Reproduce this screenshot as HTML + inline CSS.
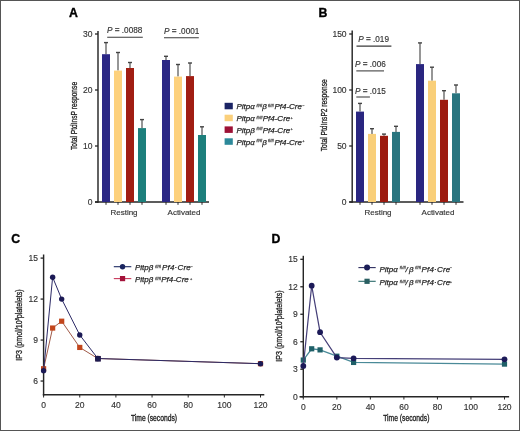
<!DOCTYPE html>
<html><head><meta charset="utf-8"><style>
html,body{margin:0;padding:0;background:#fff;}
svg{display:block;font-family:"Liberation Sans", sans-serif;will-change:transform;}
</style></head><body>
<svg width="520" height="431" viewBox="0 0 520 431" fill="#333">
<rect x="0" y="0" width="520" height="431" fill="#fff"/>
<g fill="#333">
<line x1="98" y1="31" x2="98" y2="202.8" stroke="#262626" stroke-width="1.45"/>
<line x1="95" y1="202" x2="209" y2="202" stroke="#262626" stroke-width="1.45"/>
<line x1="95" y1="202.0" x2="98" y2="202.0" stroke="#262626" stroke-width="1.3"/>
<text x="92.4" y="205.0" font-size="8.5" text-anchor="end" stroke="#333" stroke-width="0.15" >0</text>
<line x1="95" y1="146.0" x2="98" y2="146.0" stroke="#262626" stroke-width="1.3"/>
<text x="92.4" y="149.0" font-size="8.5" text-anchor="end" stroke="#333" stroke-width="0.15" >10</text>
<line x1="95" y1="90.0" x2="98" y2="90.0" stroke="#262626" stroke-width="1.3"/>
<text x="92.4" y="93.0" font-size="8.5" text-anchor="end" stroke="#333" stroke-width="0.15" >20</text>
<line x1="95" y1="34.0" x2="98" y2="34.0" stroke="#262626" stroke-width="1.3"/>
<text x="92.4" y="37.0" font-size="8.5" text-anchor="end" stroke="#333" stroke-width="0.15" >30</text>
<line x1="106" y1="42.6" x2="106" y2="54.2" stroke="#5e5e5e" stroke-width="1.3"/>
<line x1="104" y1="42.6" x2="108" y2="42.6" stroke="#444" stroke-width="1.4"/>
<rect x="102" y="54.2" width="8" height="147.8" fill="#2b2785"/>
<line x1="106" y1="202" x2="106" y2="204.8" stroke="#262626" stroke-width="1"/>
<line x1="118" y1="52.5" x2="118" y2="70.6" stroke="#5e5e5e" stroke-width="1.3"/>
<line x1="116" y1="52.5" x2="120" y2="52.5" stroke="#444" stroke-width="1.4"/>
<rect x="114" y="70.6" width="8" height="131.4" fill="#fdd17d"/>
<line x1="118" y1="202" x2="118" y2="204.8" stroke="#262626" stroke-width="1"/>
<line x1="130" y1="62.5" x2="130" y2="68" stroke="#5e5e5e" stroke-width="1.3"/>
<line x1="128" y1="62.5" x2="132" y2="62.5" stroke="#444" stroke-width="1.4"/>
<rect x="126" y="68" width="8" height="134" fill="#a11d12"/>
<line x1="130" y1="202" x2="130" y2="204.8" stroke="#262626" stroke-width="1"/>
<line x1="142" y1="119.6" x2="142" y2="128.1" stroke="#5e5e5e" stroke-width="1.3"/>
<line x1="140" y1="119.6" x2="144" y2="119.6" stroke="#444" stroke-width="1.4"/>
<rect x="138" y="128.1" width="8" height="73.9" fill="#1d7f7c"/>
<line x1="142" y1="202" x2="142" y2="204.8" stroke="#262626" stroke-width="1"/>
<line x1="166" y1="56.3" x2="166" y2="60" stroke="#5e5e5e" stroke-width="1.3"/>
<line x1="164" y1="56.3" x2="168" y2="56.3" stroke="#444" stroke-width="1.4"/>
<rect x="162" y="60" width="8" height="142" fill="#2b2785"/>
<line x1="166" y1="202" x2="166" y2="204.8" stroke="#262626" stroke-width="1"/>
<line x1="178" y1="64.5" x2="178" y2="76.6" stroke="#5e5e5e" stroke-width="1.3"/>
<line x1="176" y1="64.5" x2="180" y2="64.5" stroke="#444" stroke-width="1.4"/>
<rect x="174" y="76.6" width="8" height="125.4" fill="#fdd17d"/>
<line x1="178" y1="202" x2="178" y2="204.8" stroke="#262626" stroke-width="1"/>
<line x1="190" y1="63" x2="190" y2="76.1" stroke="#5e5e5e" stroke-width="1.3"/>
<line x1="188" y1="63" x2="192" y2="63" stroke="#444" stroke-width="1.4"/>
<rect x="186" y="76.1" width="8" height="125.9" fill="#a11d12"/>
<line x1="190" y1="202" x2="190" y2="204.8" stroke="#262626" stroke-width="1"/>
<line x1="202" y1="126.8" x2="202" y2="135" stroke="#5e5e5e" stroke-width="1.3"/>
<line x1="200" y1="126.8" x2="204" y2="126.8" stroke="#444" stroke-width="1.4"/>
<rect x="198" y="135" width="8" height="67" fill="#1d7f7c"/>
<line x1="202" y1="202" x2="202" y2="204.8" stroke="#262626" stroke-width="1"/>
<text x="124" y="214.7" font-size="8" text-anchor="middle" stroke="#333" stroke-width="0.15" >Resting</text>
<text x="184" y="214.7" font-size="8" text-anchor="middle" stroke="#333" stroke-width="0.15" >Activated</text>
<text x="69" y="16.8" font-size="12.3" text-anchor="start" stroke="#000" stroke-width="0.35" font-weight="bold" fill="#000">A</text>
<text transform="translate(76.9,116) rotate(-90) scale(0.70,1)" font-size="9.5" text-anchor="middle" stroke="#222" stroke-width="0.3" fill="#222">Total PtdInsP response</text>
<line x1="352.2" y1="30.6" x2="352.2" y2="202.8" stroke="#262626" stroke-width="1.45"/>
<line x1="349.2" y1="202" x2="463.5" y2="202" stroke="#262626" stroke-width="1.45"/>
<line x1="349.2" y1="202.0" x2="352.2" y2="202.0" stroke="#262626" stroke-width="1.3"/>
<text x="346.59999999999997" y="205.0" font-size="8.5" text-anchor="end" stroke="#333" stroke-width="0.15" >0</text>
<line x1="349.2" y1="146.0" x2="352.2" y2="146.0" stroke="#262626" stroke-width="1.3"/>
<text x="346.59999999999997" y="149.0" font-size="8.5" text-anchor="end" stroke="#333" stroke-width="0.15" >50</text>
<line x1="349.2" y1="89.99999999999999" x2="352.2" y2="89.99999999999999" stroke="#262626" stroke-width="1.3"/>
<text x="346.59999999999997" y="92.99999999999999" font-size="8.5" text-anchor="end" stroke="#333" stroke-width="0.15" >100</text>
<line x1="349.2" y1="33.99999999999997" x2="352.2" y2="33.99999999999997" stroke="#262626" stroke-width="1.3"/>
<text x="346.59999999999997" y="36.99999999999997" font-size="8.5" text-anchor="end" stroke="#333" stroke-width="0.15" >150</text>
<line x1="360" y1="103.4" x2="360" y2="111.6" stroke="#5e5e5e" stroke-width="1.3"/>
<line x1="358" y1="103.4" x2="362" y2="103.4" stroke="#444" stroke-width="1.4"/>
<rect x="356" y="111.6" width="8" height="90.4" fill="#2a2680"/>
<line x1="360" y1="202" x2="360" y2="204.8" stroke="#262626" stroke-width="1"/>
<line x1="372" y1="128.7" x2="372" y2="133.9" stroke="#5e5e5e" stroke-width="1.3"/>
<line x1="370" y1="128.7" x2="374" y2="128.7" stroke="#444" stroke-width="1.4"/>
<rect x="368" y="133.9" width="8" height="68.1" fill="#f9cf79"/>
<line x1="372" y1="202" x2="372" y2="204.8" stroke="#262626" stroke-width="1"/>
<line x1="384" y1="134.1" x2="384" y2="135.8" stroke="#5e5e5e" stroke-width="1.3"/>
<line x1="382" y1="134.1" x2="386" y2="134.1" stroke="#444" stroke-width="1.4"/>
<rect x="380" y="135.8" width="8" height="66.19999999999999" fill="#9c1b10"/>
<line x1="384" y1="202" x2="384" y2="204.8" stroke="#262626" stroke-width="1"/>
<line x1="396" y1="126.3" x2="396" y2="131.9" stroke="#5e5e5e" stroke-width="1.3"/>
<line x1="394" y1="126.3" x2="398" y2="126.3" stroke="#444" stroke-width="1.4"/>
<rect x="392" y="131.9" width="8" height="70.1" fill="#29757f"/>
<line x1="396" y1="202" x2="396" y2="204.8" stroke="#262626" stroke-width="1"/>
<line x1="420" y1="42.9" x2="420" y2="64.1" stroke="#5e5e5e" stroke-width="1.3"/>
<line x1="418" y1="42.9" x2="422" y2="42.9" stroke="#444" stroke-width="1.4"/>
<rect x="416" y="64.1" width="8" height="137.9" fill="#2a2680"/>
<line x1="420" y1="202" x2="420" y2="204.8" stroke="#262626" stroke-width="1"/>
<line x1="432" y1="67.2" x2="432" y2="80.7" stroke="#5e5e5e" stroke-width="1.3"/>
<line x1="430" y1="67.2" x2="434" y2="67.2" stroke="#444" stroke-width="1.4"/>
<rect x="428" y="80.7" width="8" height="121.3" fill="#f9cf79"/>
<line x1="432" y1="202" x2="432" y2="204.8" stroke="#262626" stroke-width="1"/>
<line x1="444" y1="90.7" x2="444" y2="99.8" stroke="#5e5e5e" stroke-width="1.3"/>
<line x1="442" y1="90.7" x2="446" y2="90.7" stroke="#444" stroke-width="1.4"/>
<rect x="440" y="99.8" width="8" height="102.2" fill="#9c1b10"/>
<line x1="444" y1="202" x2="444" y2="204.8" stroke="#262626" stroke-width="1"/>
<line x1="456" y1="85" x2="456" y2="93.3" stroke="#5e5e5e" stroke-width="1.3"/>
<line x1="454" y1="85" x2="458" y2="85" stroke="#444" stroke-width="1.4"/>
<rect x="452" y="93.3" width="8" height="108.7" fill="#29757f"/>
<line x1="456" y1="202" x2="456" y2="204.8" stroke="#262626" stroke-width="1"/>
<text x="378" y="214.7" font-size="8" text-anchor="middle" stroke="#333" stroke-width="0.15" >Resting</text>
<text x="438" y="214.7" font-size="8" text-anchor="middle" stroke="#333" stroke-width="0.15" >Activated</text>
<text x="318.5" y="16.9" font-size="12.3" text-anchor="start" stroke="#000" stroke-width="0.35" font-weight="bold" fill="#000">B</text>
<text transform="translate(326.6,115.3) rotate(-90) scale(0.70,1)" font-size="9.5" text-anchor="middle" stroke="#222" stroke-width="0.3" fill="#222">Total PtdInsP2 response</text>
<text x="107" y="33" font-size="8.2" stroke="#333" stroke-width="0.15"><tspan font-style="italic">P</tspan> <tspan font-weight="bold" fill="#555" stroke="#555">=</tspan> .0088</text>
<line x1="107.2" y1="37.3" x2="142.8" y2="37.3" stroke="#3a3a3a" stroke-width="1.05"/>
<text x="164" y="34.1" font-size="8.2" stroke="#333" stroke-width="0.15"><tspan font-style="italic">P</tspan> <tspan font-weight="bold" fill="#555" stroke="#555">=</tspan> .0001</text>
<line x1="164" y1="37.7" x2="198.8" y2="37.7" stroke="#3a3a3a" stroke-width="1.05"/>
<text x="358.2" y="42.2" font-size="8.2" stroke="#333" stroke-width="0.15"><tspan font-style="italic">P</tspan> <tspan font-weight="bold" fill="#555" stroke="#555">=</tspan> .019</text>
<line x1="356.5" y1="46.1" x2="391.4" y2="46.1" stroke="#3a3a3a" stroke-width="1.05"/>
<text x="355" y="66.6" font-size="8.2" stroke="#333" stroke-width="0.15"><tspan font-style="italic">P</tspan> <tspan font-weight="bold" fill="#555" stroke="#555">=</tspan> .006</text>
<line x1="356.3" y1="70.9" x2="384" y2="70.9" stroke="#3a3a3a" stroke-width="1.05"/>
<text x="355" y="93.9" font-size="8.2" stroke="#333" stroke-width="0.15"><tspan font-style="italic">P</tspan> <tspan font-weight="bold" fill="#555" stroke="#555">=</tspan> .015</text>
<line x1="356.3" y1="97" x2="369.9" y2="97" stroke="#3a3a3a" stroke-width="1.05"/>
</g>
<rect x="224.6" y="102.8" width="8.2" height="6.5" fill="#1b2464"/>
<rect x="224.6" y="114.7" width="8.2" height="6.5" fill="#fbd07c"/>
<rect x="224.6" y="126.39999999999999" width="8.2" height="6.5" fill="#9d1135"/>
<rect x="224.6" y="138.29999999999998" width="8.2" height="6.5" fill="#2c899a"/>
<text font-size="8" font-style="italic" fill="#262626" stroke="#262626" stroke-width="0.25"><tspan x="236.5" y="109.1">Pitpα</tspan><tspan x="256.4" y="106.60" font-size="3.7" letter-spacing="0.25" fill="#555" stroke="#555" stroke-width="0.3">fl/fl</tspan><tspan x="262.3" y="109.1">β</tspan><tspan x="267.9" y="106.60" font-size="3.7" letter-spacing="0.25" fill="#555" stroke="#555" stroke-width="0.3">fl/fl</tspan><tspan x="274.4" y="109.1">Pf4-Cre</tspan><tspan x="302.2" y="106.60" font-size="3.7" letter-spacing="0.25" fill="#555" stroke="#555" stroke-width="0.3">−</tspan></text>
<text font-size="8" font-style="italic" fill="#262626" stroke="#262626" stroke-width="0.25"><tspan x="236.5" y="121">Pitpα</tspan><tspan x="256.6" y="118.50" font-size="3.7" letter-spacing="0.25" fill="#555" stroke="#555" stroke-width="0.3">fl/fl</tspan><tspan x="262.7" y="121">Pf4-Cre</tspan><tspan x="290.5" y="118.50" font-size="3.7" letter-spacing="0.25" fill="#555" stroke="#555" stroke-width="0.3">+</tspan></text>
<text font-size="8" font-style="italic" fill="#262626" stroke="#262626" stroke-width="0.25"><tspan x="236.5" y="132.7">Pitpβ</tspan><tspan x="256.6" y="130.20" font-size="3.7" letter-spacing="0.25" fill="#555" stroke="#555" stroke-width="0.3">fl/fl</tspan><tspan x="262.7" y="132.7">Pf4-Cre</tspan><tspan x="290.5" y="130.20" font-size="3.7" letter-spacing="0.25" fill="#555" stroke="#555" stroke-width="0.3">+</tspan></text>
<text font-size="8" font-style="italic" fill="#262626" stroke="#262626" stroke-width="0.25"><tspan x="236.5" y="144.6">Pitpα</tspan><tspan x="256.4" y="142.10" font-size="3.7" letter-spacing="0.25" fill="#555" stroke="#555" stroke-width="0.3">fl/fl</tspan><tspan x="262.3" y="144.6">β</tspan><tspan x="267.9" y="142.10" font-size="3.7" letter-spacing="0.25" fill="#555" stroke="#555" stroke-width="0.3">fl/fl</tspan><tspan x="274.4" y="144.6">Pf4-Cre</tspan><tspan x="302.2" y="142.10" font-size="3.7" letter-spacing="0.25" fill="#555" stroke="#555" stroke-width="0.3">+</tspan></text>
<line x1="43.6" y1="254.5" x2="43.6" y2="395.5" stroke="#262626" stroke-width="1.45"/>
<line x1="42.800000000000004" y1="394.7" x2="264.3" y2="394.7" stroke="#262626" stroke-width="1.45"/>
<line x1="40.6" y1="381.03999999999996" x2="43.6" y2="381.03999999999996" stroke="#262626" stroke-width="1.3"/>
<text x="38.0" y="384.03999999999996" font-size="8.5" text-anchor="end" stroke="#333" stroke-width="0.15" >6</text>
<line x1="40.6" y1="340.06" x2="43.6" y2="340.06" stroke="#262626" stroke-width="1.3"/>
<text x="38.0" y="343.06" font-size="8.5" text-anchor="end" stroke="#333" stroke-width="0.15" >9</text>
<line x1="40.6" y1="299.08" x2="43.6" y2="299.08" stroke="#262626" stroke-width="1.3"/>
<text x="38.0" y="302.08" font-size="8.5" text-anchor="end" stroke="#333" stroke-width="0.15" >12</text>
<line x1="40.6" y1="258.1" x2="43.6" y2="258.1" stroke="#262626" stroke-width="1.3"/>
<text x="38.0" y="261.1" font-size="8.5" text-anchor="end" stroke="#333" stroke-width="0.15" >15</text>
<line x1="43.6" y1="394.7" x2="43.6" y2="397.5" stroke="#262626" stroke-width="1"/>
<text x="43.6" y="407.7" font-size="8.5" text-anchor="middle" stroke="#333" stroke-width="0.15" >0</text>
<line x1="79.75" y1="394.7" x2="79.75" y2="397.5" stroke="#262626" stroke-width="1"/>
<text x="79.75" y="407.7" font-size="8.5" text-anchor="middle" stroke="#333" stroke-width="0.15" >20</text>
<line x1="115.9" y1="394.7" x2="115.9" y2="397.5" stroke="#262626" stroke-width="1"/>
<text x="115.9" y="407.7" font-size="8.5" text-anchor="middle" stroke="#333" stroke-width="0.15" >40</text>
<line x1="152.05" y1="394.7" x2="152.05" y2="397.5" stroke="#262626" stroke-width="1"/>
<text x="152.05" y="407.7" font-size="8.5" text-anchor="middle" stroke="#333" stroke-width="0.15" >60</text>
<line x1="188.20000000000002" y1="394.7" x2="188.20000000000002" y2="397.5" stroke="#262626" stroke-width="1"/>
<text x="188.20000000000002" y="407.7" font-size="8.5" text-anchor="middle" stroke="#333" stroke-width="0.15" >80</text>
<line x1="224.35" y1="394.7" x2="224.35" y2="397.5" stroke="#262626" stroke-width="1"/>
<text x="224.35" y="407.7" font-size="8.5" text-anchor="middle" stroke="#333" stroke-width="0.15" >100</text>
<line x1="260.5" y1="394.7" x2="260.5" y2="397.5" stroke="#262626" stroke-width="1"/>
<text x="260.5" y="407.7" font-size="8.5" text-anchor="middle" stroke="#333" stroke-width="0.15" >120</text>
<text x="11.2" y="242.7" font-size="12.3" text-anchor="start" stroke="#000" stroke-width="0.35" font-weight="bold" fill="#000">C</text>
<line x1="303.3" y1="255.8" x2="303.3" y2="397.5" stroke="#262626" stroke-width="1.45"/>
<line x1="299.5" y1="396.7" x2="509.1" y2="396.7" stroke="#262626" stroke-width="1.45"/>
<line x1="300.3" y1="396.7" x2="303.3" y2="396.7" stroke="#262626" stroke-width="1.3"/>
<text x="297.7" y="399.7" font-size="8.5" text-anchor="end" stroke="#333" stroke-width="0.15" >0</text>
<line x1="300.3" y1="369.21999999999997" x2="303.3" y2="369.21999999999997" stroke="#262626" stroke-width="1.3"/>
<text x="297.7" y="372.21999999999997" font-size="8.5" text-anchor="end" stroke="#333" stroke-width="0.15" >3</text>
<line x1="300.3" y1="341.74" x2="303.3" y2="341.74" stroke="#262626" stroke-width="1.3"/>
<text x="297.7" y="344.74" font-size="8.5" text-anchor="end" stroke="#333" stroke-width="0.15" >6</text>
<line x1="300.3" y1="314.26" x2="303.3" y2="314.26" stroke="#262626" stroke-width="1.3"/>
<text x="297.7" y="317.26" font-size="8.5" text-anchor="end" stroke="#333" stroke-width="0.15" >9</text>
<line x1="300.3" y1="286.78" x2="303.3" y2="286.78" stroke="#262626" stroke-width="1.3"/>
<text x="297.7" y="289.78" font-size="8.5" text-anchor="end" stroke="#333" stroke-width="0.15" >12</text>
<line x1="300.3" y1="259.29999999999995" x2="303.3" y2="259.29999999999995" stroke="#262626" stroke-width="1.3"/>
<text x="297.7" y="262.29999999999995" font-size="8.5" text-anchor="end" stroke="#333" stroke-width="0.15" >15</text>
<line x1="303.3" y1="396.7" x2="303.3" y2="399.5" stroke="#262626" stroke-width="1"/>
<text x="303.3" y="409.7" font-size="8.5" text-anchor="middle" stroke="#333" stroke-width="0.15" >0</text>
<line x1="336.83333333333337" y1="396.7" x2="336.83333333333337" y2="399.5" stroke="#262626" stroke-width="1"/>
<text x="336.83333333333337" y="409.7" font-size="8.5" text-anchor="middle" stroke="#333" stroke-width="0.15" >20</text>
<line x1="370.3666666666667" y1="396.7" x2="370.3666666666667" y2="399.5" stroke="#262626" stroke-width="1"/>
<text x="370.3666666666667" y="409.7" font-size="8.5" text-anchor="middle" stroke="#333" stroke-width="0.15" >40</text>
<line x1="403.9" y1="396.7" x2="403.9" y2="399.5" stroke="#262626" stroke-width="1"/>
<text x="403.9" y="409.7" font-size="8.5" text-anchor="middle" stroke="#333" stroke-width="0.15" >60</text>
<line x1="437.43333333333334" y1="396.7" x2="437.43333333333334" y2="399.5" stroke="#262626" stroke-width="1"/>
<text x="437.43333333333334" y="409.7" font-size="8.5" text-anchor="middle" stroke="#333" stroke-width="0.15" >80</text>
<line x1="470.9666666666667" y1="396.7" x2="470.9666666666667" y2="399.5" stroke="#262626" stroke-width="1"/>
<text x="470.9666666666667" y="409.7" font-size="8.5" text-anchor="middle" stroke="#333" stroke-width="0.15" >100</text>
<line x1="504.5" y1="396.7" x2="504.5" y2="399.5" stroke="#262626" stroke-width="1"/>
<text x="504.5" y="409.7" font-size="8.5" text-anchor="middle" stroke="#333" stroke-width="0.15" >120</text>
<text x="271.5" y="242.7" font-size="12.3" text-anchor="start" stroke="#000" stroke-width="0.35" font-weight="bold" fill="#000">D</text>
<polyline points="43.60,368.75 52.64,328.04 61.68,321.21 79.75,347.44 97.83,358.50 260.50,363.69" fill="none" stroke="#a05a48" stroke-width="1.0"/>
<rect x="41.00" y="366.15" width="5.2" height="5.2" fill="#c2461c"/>
<rect x="50.04" y="325.44" width="5.2" height="5.2" fill="#c2461c"/>
<rect x="59.08" y="318.61" width="5.2" height="5.2" fill="#c2461c"/>
<rect x="77.15" y="344.84" width="5.2" height="5.2" fill="#c2461c"/>
<rect x="95.23" y="355.90" width="5.2" height="5.2" fill="#c2461c"/>
<rect x="257.90" y="361.09" width="5.2" height="5.2" fill="#c2461c"/>
<polyline points="43.60,370.66 52.64,277.22 61.68,299.08 79.75,335.01 97.83,358.50 260.50,363.69" fill="none" stroke="#2c2a66" stroke-width="1.0"/>
<circle cx="43.60" cy="370.66" r="2.7" fill="#1c1a55"/>
<circle cx="52.64" cy="277.22" r="2.7" fill="#1c1a55"/>
<circle cx="61.68" cy="299.08" r="2.7" fill="#1c1a55"/>
<circle cx="79.75" cy="335.01" r="2.7" fill="#1c1a55"/>
<circle cx="97.83" cy="358.50" r="2.7" fill="#1c1a55"/>
<circle cx="260.50" cy="363.69" r="2.7" fill="#1c1a55"/>
<rect x="95.2" y="356" width="5.6" height="5.6" fill="#1c1a50"/>
<polyline points="303.30,360.06 311.68,348.79 320.07,349.89 336.83,356.21 353.60,362.44 504.50,364.09" fill="none" stroke="#4a8a98" stroke-width="1.3"/>
<rect x="300.70" y="357.46" width="5.2" height="5.2" fill="#1f6068"/>
<rect x="309.08" y="346.19" width="5.2" height="5.2" fill="#1f6068"/>
<rect x="317.47" y="347.29" width="5.2" height="5.2" fill="#1f6068"/>
<rect x="334.23" y="353.61" width="5.2" height="5.2" fill="#1f6068"/>
<rect x="351.00" y="359.84" width="5.2" height="5.2" fill="#1f6068"/>
<rect x="501.90" y="361.49" width="5.2" height="5.2" fill="#1f6068"/>
<polyline points="303.30,365.92 311.68,285.68 320.07,332.21 336.83,357.59 353.60,358.32 504.50,359.33" fill="none" stroke="#453f78" stroke-width="1.2"/>
<circle cx="303.30" cy="365.92" r="2.9" fill="#1c1a58"/>
<circle cx="311.68" cy="285.68" r="2.9" fill="#1c1a58"/>
<circle cx="320.07" cy="332.21" r="2.9" fill="#1c1a58"/>
<circle cx="336.83" cy="357.59" r="2.9" fill="#1c1a58"/>
<circle cx="353.60" cy="358.32" r="2.9" fill="#1c1a58"/>
<circle cx="504.50" cy="359.33" r="2.9" fill="#1c1a58"/>
<text transform="translate(154.0,421) scale(0.75,1)" font-size="9" text-anchor="middle" fill="#222" stroke="#222" stroke-width="0.35">Time (seconds)</text>
<text transform="translate(406.3,420.8) scale(0.75,1)" font-size="9" text-anchor="middle" fill="#222" stroke="#222" stroke-width="0.35">Time (seconds)</text>
<text transform="translate(22.2,325) rotate(-90) scale(0.79,1)" font-size="9" text-anchor="middle" fill="#222" stroke="#222" stroke-width="0.3">IP3 (pmol/10<tspan font-size="5" dy="-3">8</tspan><tspan dy="3">platelets)</tspan></text>
<text transform="translate(281.8,326) rotate(-90) scale(0.79,1)" font-size="9" text-anchor="middle" fill="#222" stroke="#222" stroke-width="0.3">IP3 (pmol/10<tspan font-size="5" dy="-3">8</tspan><tspan dy="3">platelets)</tspan></text>
<line x1="113.8" y1="266.7" x2="131.3" y2="266.7" stroke="#1c2a62" stroke-width="1.1"/>
<circle cx="122.55000000000001" cy="266.7" r="2.7" fill="#1a2660"/>
<line x1="113.8" y1="278.6" x2="131.3" y2="278.6" stroke="#c8385a" stroke-width="1.1"/>
<rect x="119.95000000000002" y="276.0" width="5.2" height="5.2" fill="#a3123a"/>
<line x1="358.4" y1="267.6" x2="375.7" y2="267.6" stroke="#2c2c5e" stroke-width="1.1"/>
<circle cx="367.04999999999995" cy="267.6" r="3.0" fill="#1c1e58"/>
<line x1="358.4" y1="281.3" x2="375.7" y2="281.3" stroke="#2a6a6a" stroke-width="1.1"/>
<rect x="364.44999999999993" y="278.7" width="5.2" height="5.2" fill="#2a5f62"/>
<text font-size="8" font-style="italic" fill="#262626" stroke="#262626" stroke-width="0.25"><tspan x="134.9" y="270.3">Pitpβ</tspan><tspan x="155.2" y="267.80" font-size="3.7" letter-spacing="0.25" fill="#555" stroke="#555" stroke-width="0.3">fl/fl</tspan><tspan x="161.9" y="270.3" letter-spacing="0.22">Pf4·Cre</tspan><tspan x="190.4" y="267.80" font-size="3.7" letter-spacing="0.25" fill="#555" stroke="#555" stroke-width="0.3">−</tspan></text>
<text font-size="8" font-style="italic" fill="#262626" stroke="#262626" stroke-width="0.25"><tspan x="134.9" y="282.0">Pitpβ</tspan><tspan x="155.2" y="279.50" font-size="3.7" letter-spacing="0.25" fill="#555" stroke="#555" stroke-width="0.3">fl/fl</tspan><tspan x="161.2" y="282.0">Pf4-Cre</tspan><tspan x="190.1" y="279.50" font-size="3.7" letter-spacing="0.25" fill="#555" stroke="#555" stroke-width="0.3">+</tspan></text>
<text font-size="8" font-style="italic" fill="#262626" stroke="#262626" stroke-width="0.25"><tspan x="379.4" y="271.6">Pitpα</tspan><tspan x="399.8" y="269.10" font-size="3.7" letter-spacing="0.25" fill="#555" stroke="#555" stroke-width="0.3">fl/fl</tspan><tspan x="405.6" y="271.6">/</tspan><tspan x="409.0" y="271.6">β</tspan><tspan x="415.2" y="269.10" font-size="3.7" letter-spacing="0.25" fill="#555" stroke="#555" stroke-width="0.3">fl/fl</tspan><tspan x="421.4" y="271.6" letter-spacing="0.22">Pf4·Cre</tspan><tspan x="449.7" y="269.10" font-size="3.7" letter-spacing="0.25" fill="#555" stroke="#555" stroke-width="0.3">−</tspan></text>
<text font-size="8" font-style="italic" fill="#262626" stroke="#262626" stroke-width="0.25"><tspan x="379.4" y="285.1">Pitpα</tspan><tspan x="399.8" y="282.60" font-size="3.7" letter-spacing="0.25" fill="#555" stroke="#555" stroke-width="0.3">fl/fl</tspan><tspan x="405.6" y="285.1">/</tspan><tspan x="409.0" y="285.1">β</tspan><tspan x="415.2" y="282.60" font-size="3.7" letter-spacing="0.25" fill="#555" stroke="#555" stroke-width="0.3">fl/fl</tspan><tspan x="421.4" y="285.1" letter-spacing="0.22">Pf4·Cre</tspan><tspan x="449.7" y="282.60" font-size="3.7" letter-spacing="0.25" fill="#555" stroke="#555" stroke-width="0.3">+</tspan></text>
<rect x="0.5" y="0.5" width="519" height="430" fill="none" stroke="#555" stroke-width="1"/>
</svg>
</body></html>
